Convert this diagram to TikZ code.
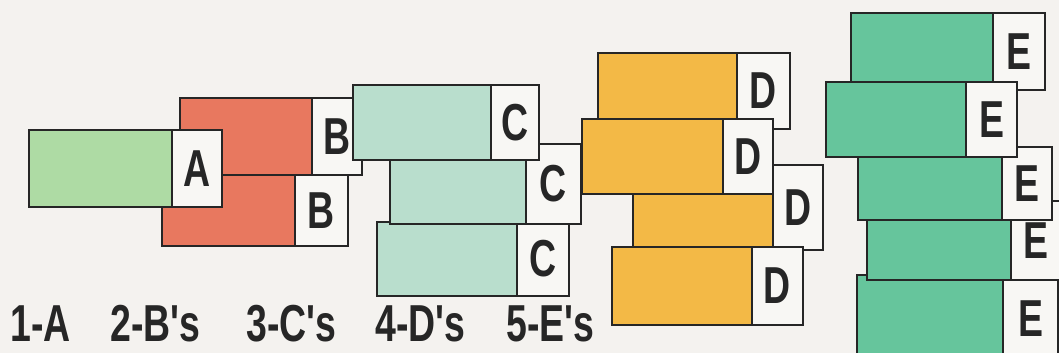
\documentclass[tikz,border=0pt]{standalone}
\usepackage{fontspec}
\usepackage{graphicx}
\setmainfont{Liberation Sans}
\definecolor{bg}{HTML}{F4F2EF}
\definecolor{ln}{HTML}{262626}
\definecolor{labfill}{HTML}{F8F7F4}
\definecolor{cA}{HTML}{AEDBA4}
\definecolor{cB}{HTML}{E8785F}
\definecolor{cC}{HTML}{B9DECD}
\definecolor{cD}{HTML}{F3B946}
\definecolor{cE}{HTML}{66C59C}
\newcommand{\cond}[1]{\scalebox{0.72}[1]{#1}}
\newcommand{\tile}[8]{%
  \pgfmathsetmacro\tileTW{#4-#2}%
  \pgfmathsetmacro\tileLW{#5-#4}%
  \pgfmathsetmacro\tileTH{#6-#3}%
  \node[body, fill=#7, minimum width=\tileTW pt, minimum height=\tileTH pt] (#1) at (#2,#3) {};
  \node[lab, minimum width=\tileLW pt, minimum height=\tileTH pt] (#1l) at (#4,#3) {\cond{#8}};
}
\begin{document}
\begin{tikzpicture}[x=1pt,y=-1pt,
  body/.style={draw=ln, line width=2.4pt, inner sep=0pt, outer sep=0pt, anchor=north west},
  lab/.style={draw=ln, line width=2.4pt, fill=labfill, inner sep=0pt, outer sep=0pt, anchor=north west,
    font=\fontsize{52}{52}\selectfont\bfseries, text=ln},
  captext/.style={anchor=base west, inner sep=0pt, font=\fontsize{52}{52}\selectfont\bfseries, text=ln}]
\useasboundingbox[fill=bg] (0,0) rectangle (1059,353);
% B's
\tile{b1}{180}{98}{312}{362}{175}{cB}{B}
\tile{b2}{162}{175}{295}{348}{246}{cB}{B}
% A
\tile{a1}{29}{130}{172}{222}{207}{cA}{A}
% C's
\tile{c3}{377}{222}{517}{569}{296}{cC}{C}
\tile{c2}{390}{144}{526}{581}{224}{cC}{C}
\tile{c1}{353}{85}{491}{539}{160}{cC}{C}
% D's
\tile{d1}{598}{53}{737}{790}{129}{cD}{D}
\tile{d3}{633}{165}{773}{823}{250}{cD}{D}
\tile{d4}{612}{247}{752}{803}{325}{cD}{D}
\tile{d2}{582}{119}{723}{773}{194}{cD}{D}
% E's
\tile{e5}{857}{275}{1003}{1058}{362}{cE}{E}
\tile{e4}{867}{201}{1011}{1061}{280}{cE}{E}
\tile{e3}{858}{147}{1002}{1052}{220}{cE}{E}
\tile{e1}{851}{13}{993}{1045}{90}{cE}{E}
\tile{e2}{826}{82}{966}{1017}{157}{cE}{E}
% captions
\node[captext] (t1) at (10,341) {\cond{1-A}};
\node[captext] (t2) at (110,341) {\cond{2-B\textquotesingle s}};
\node[captext] (t3) at (246,341) {\cond{3-C\textquotesingle s}};
\node[captext] (t4) at (375,341) {\cond{4-D\textquotesingle s}};
\node[captext] (t5) at (506,341) {\cond{5-E\textquotesingle s}};
\end{tikzpicture}
\end{document}
